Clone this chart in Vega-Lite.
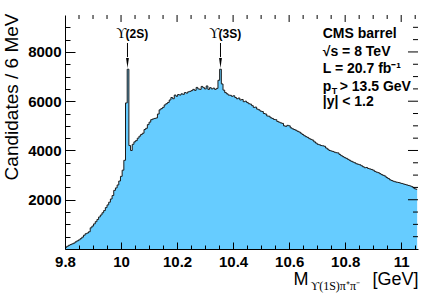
{
  "$schema": "https://vega.github.io/schema/vega-lite/v6.json",
  "width": 353,
  "height": 234,
  "autosize": "none",
  "padding": {"left": 65, "top": 15, "right": 14, "bottom": 45},
  "background": "white",
  "config": {"view": {"stroke": null}, "font": "Liberation Sans", "axis": {"grid": false}},
  "datasets": {
    "hist": [
      {"m":9.803,"n":60},{"m":9.809,"n":110},{"m":9.815,"n":150},{"m":9.821,"n":180},{"m":9.827,"n":210},
      {"m":9.833,"n":240},{"m":9.839,"n":290},{"m":9.845,"n":330},{"m":9.851,"n":370},{"m":9.857,"n":420},
      {"m":9.863,"n":480},{"m":9.869,"n":560},{"m":9.875,"n":620},{"m":9.881,"n":650},{"m":9.887,"n":700},
      {"m":9.893,"n":860},{"m":9.899,"n":930},{"m":9.905,"n":1020},{"m":9.911,"n":1110},{"m":9.917,"n":1200},
      {"m":9.923,"n":1300},{"m":9.929,"n":1380},{"m":9.935,"n":1470},{"m":9.941,"n":1560},{"m":9.947,"n":1680},
      {"m":9.953,"n":1790},{"m":9.959,"n":1900},{"m":9.965,"n":2030},{"m":9.971,"n":2170},{"m":9.977,"n":2380},
      {"m":9.983,"n":2480},{"m":9.989,"n":2600},{"m":9.995,"n":2760},{"m":10.001,"n":2950},{"m":10.007,"n":3200},
      {"m":10.013,"n":3600},{"m":10.019,"n":5930},{"m":10.025,"n":7300},{"m":10.031,"n":4200},{"m":10.037,"n":4000},
      {"m":10.043,"n":4250},{"m":10.049,"n":4350},{"m":10.055,"n":4400},{"m":10.061,"n":4500},{"m":10.067,"n":4580},
      {"m":10.073,"n":4650},{"m":10.079,"n":4700},{"m":10.085,"n":4850},{"m":10.091,"n":4900},{"m":10.097,"n":5050},
      {"m":10.103,"n":5150},{"m":10.109,"n":5250},{"m":10.115,"n":5280},{"m":10.121,"n":5300},{"m":10.127,"n":5320},
      {"m":10.133,"n":5480},{"m":10.139,"n":5650},{"m":10.145,"n":5700},{"m":10.151,"n":5750},{"m":10.157,"n":5850},
      {"m":10.163,"n":5900},{"m":10.169,"n":5950},{"m":10.175,"n":6050},{"m":10.181,"n":6150},{"m":10.187,"n":6100},
      {"m":10.193,"n":6250},{"m":10.199,"n":6200},{"m":10.205,"n":6270},{"m":10.211,"n":6250},{"m":10.217,"n":6300},
      {"m":10.223,"n":6280},{"m":10.229,"n":6350},{"m":10.235,"n":6330},{"m":10.241,"n":6380},{"m":10.247,"n":6400},
      {"m":10.253,"n":6430},{"m":10.259,"n":6480},{"m":10.265,"n":6440},{"m":10.271,"n":6560},{"m":10.277,"n":6500},
      {"m":10.283,"n":6480},{"m":10.289,"n":6600},{"m":10.295,"n":6550},{"m":10.301,"n":6500},{"m":10.307,"n":6620},
      {"m":10.313,"n":6480},{"m":10.319,"n":6550},{"m":10.325,"n":6500},{"m":10.331,"n":6530},{"m":10.337,"n":6480},
      {"m":10.343,"n":6520},{"m":10.349,"n":6850},{"m":10.355,"n":7300},{"m":10.361,"n":6700},{"m":10.367,"n":6450},
      {"m":10.373,"n":6350},{"m":10.379,"n":6300},{"m":10.385,"n":6250},{"m":10.391,"n":6240},{"m":10.397,"n":6200},
      {"m":10.403,"n":6220},{"m":10.409,"n":6150},{"m":10.415,"n":6100},{"m":10.421,"n":6130},{"m":10.427,"n":6050},
      {"m":10.433,"n":6070},{"m":10.439,"n":5980},{"m":10.445,"n":6000},{"m":10.451,"n":5950},{"m":10.457,"n":5900},
      {"m":10.463,"n":5880},{"m":10.469,"n":5820},{"m":10.475,"n":5750},{"m":10.481,"n":5760},{"m":10.487,"n":5680},
      {"m":10.493,"n":5650},{"m":10.499,"n":5600},{"m":10.505,"n":5580},{"m":10.511,"n":5500},{"m":10.517,"n":5480},
      {"m":10.523,"n":5400},{"m":10.529,"n":5390},{"m":10.535,"n":5330},{"m":10.541,"n":5300},{"m":10.547,"n":5260},
      {"m":10.553,"n":5250},{"m":10.559,"n":5180},{"m":10.565,"n":5150},{"m":10.571,"n":5120},{"m":10.577,"n":5100},
      {"m":10.583,"n":5000},{"m":10.589,"n":4980},{"m":10.595,"n":5020},{"m":10.601,"n":5000},{"m":10.607,"n":4920},
      {"m":10.613,"n":4880},{"m":10.619,"n":4850},{"m":10.625,"n":4820},{"m":10.631,"n":4780},{"m":10.637,"n":4750},
      {"m":10.643,"n":4700},{"m":10.649,"n":4650},{"m":10.655,"n":4600},{"m":10.661,"n":4560},{"m":10.667,"n":4530},
      {"m":10.673,"n":4480},{"m":10.679,"n":4450},{"m":10.685,"n":4420},{"m":10.691,"n":4350},{"m":10.697,"n":4300},
      {"m":10.703,"n":4250},{"m":10.709,"n":4230},{"m":10.715,"n":4200},{"m":10.721,"n":4190},{"m":10.727,"n":4170},
      {"m":10.733,"n":4100},{"m":10.739,"n":4050},{"m":10.745,"n":4000},{"m":10.751,"n":3980},{"m":10.757,"n":3960},
      {"m":10.763,"n":3930},{"m":10.769,"n":3910},{"m":10.775,"n":3900},{"m":10.781,"n":3840},{"m":10.787,"n":3790},
      {"m":10.793,"n":3750},{"m":10.799,"n":3710},{"m":10.805,"n":3680},{"m":10.811,"n":3640},{"m":10.817,"n":3600},
      {"m":10.823,"n":3560},{"m":10.829,"n":3530},{"m":10.835,"n":3500},{"m":10.841,"n":3460},{"m":10.847,"n":3440},
      {"m":10.853,"n":3420},{"m":10.859,"n":3380},{"m":10.865,"n":3340},{"m":10.871,"n":3300},{"m":10.877,"n":3310},
      {"m":10.883,"n":3270},{"m":10.889,"n":3250},{"m":10.895,"n":3230},{"m":10.901,"n":3200},{"m":10.907,"n":3150},
      {"m":10.913,"n":3120},{"m":10.919,"n":3100},{"m":10.925,"n":3060},{"m":10.931,"n":3020},{"m":10.937,"n":2990},
      {"m":10.943,"n":2960},{"m":10.949,"n":2900},{"m":10.955,"n":2860},{"m":10.961,"n":2810},{"m":10.967,"n":2780},
      {"m":10.973,"n":2750},{"m":10.979,"n":2730},{"m":10.985,"n":2710},{"m":10.991,"n":2700},{"m":10.997,"n":2680},
      {"m":11.003,"n":2660},{"m":11.009,"n":2640},{"m":11.015,"n":2620},{"m":11.021,"n":2600},{"m":11.027,"n":2580},
      {"m":11.033,"n":2560},{"m":11.039,"n":2530},{"m":11.045,"n":2480},{"m":11.051,"n":2440},{"m":11.057,"n":2420}
    ],
    "xmaj": [{"m":10},{"m":10.2},{"m":10.4},{"m":10.6},{"m":10.8},{"m":11}],
    "xmin": [{"m":9.85},{"m":9.9},{"m":9.95},{"m":10.05},{"m":10.1},{"m":10.15},{"m":10.25},{"m":10.3},{"m":10.35},{"m":10.45},{"m":10.5},{"m":10.55},{"m":10.65},{"m":10.7},{"m":10.75},{"m":10.85},{"m":10.9},{"m":10.95},{"m":11.05}],
    "ymaj": [{"n":2000},{"n":4000},{"n":6000},{"n":8000}],
    "ymin": [{"n":500},{"n":1000},{"n":1500},{"n":2500},{"n":3000},{"n":3500},{"n":4500},{"n":5000},{"n":5500},{"n":6500},{"n":7000},{"n":7500},{"n":8500},{"n":9000}],
    "info": [
      {"m":10.72,"v":8729,"t":"CMS barrel"},
      {"m":10.72,"v":7998,"t":"√s = 8 TeV"},
      {"m":10.72,"v":7288,"t":"L = 20.7 fb⁻¹"},
      {"m":10.72,"v":6597,"t":"p"},
      {"m":10.72,"v":5968,"t":"|y| < 1.2"}
    ],
    "pt_sub": [{"m":10.72,"v":6597,"t":"T"}],
    "pt_rest": [{"m":10.72,"v":6597,"t":"> 13.5 GeV"}],
    "peaks": [
      {"m":10.023,"top":8363,"bot":7790,"head":7556,"v":8729,"s":"(2S)","u":"ϒ"},
      {"m":10.355,"top":8363,"bot":7790,"head":7556,"v":8729,"s":"(3S)","u":"ϒ"}
    ]
  },
  "resolve": {"axis": {"x": "independent", "y": "independent"}},
  "layer": [
    {
      "data": {"name": "hist"},
      "mark": {"type": "area", "interpolate": "step", "color": "#66ccff"},
      "encoding": {
        "x": {"field": "m", "type": "quantitative", "scale": {"domain": [9.8, 11.06], "nice": false, "zero": false},
          "axis": {"orient": "bottom", "zindex": 1,
            "values": [9.8,9.85,9.9,9.95,10,10.05,10.1,10.15,10.2,10.25,10.3,10.35,10.4,10.45,10.5,10.55,10.6,10.65,10.7,10.75,10.8,10.85,10.9,10.95,11,11.05],
            "domain": true, "domainColor": "black", "domainWidth": 1,
            "ticks": true, "tickColor": "black", "tickWidth": 1,
            "tickSize": {"condition": {"test": "abs(datum.value*5 - round(datum.value*5)) < 0.001", "value": -7}, "value": -4},
            "labelExpr": "abs(datum.value*5 - round(datum.value*5)) < 0.001 ? format(datum.value, '~g') : ''",
            "labelFont": "Liberation Sans", "labelFontWeight": "bold", "labelFontSize": 15, "labelColor": "black",
            "labelPadding": 12, "labelFlush": false, "labelOverlap": false,
            "title": "M", "titleFont": "Liberation Sans", "titleFontWeight": "normal", "titleFontSize": 18, "titleColor": "black",
            "titleAlign": "left", "titleBaseline": "alphabetic", "titleX": 228, "titleY": 35}},
        "y": {"field": "n", "type": "quantitative", "scale": {"domain": [0, 9500], "nice": false},
          "axis": {"orient": "left", "zindex": 1,
            "values": [500,1000,1500,2000,2500,3000,3500,4000,4500,5000,5500,6000,6500,7000,7500,8000,8500,9000],
            "domain": true, "domainColor": "black", "domainWidth": 1,
            "ticks": true, "tickColor": "black", "tickWidth": 1,
            "tickSize": {"condition": {"test": "datum.value % 2000 === 0", "value": -10}, "value": -5},
            "labelExpr": "datum.value % 2000 === 0 ? format(datum.value, 'd') : ''",
            "labelFont": "Liberation Sans", "labelFontWeight": "bold", "labelFontSize": 15, "labelColor": "black",
            "labelPadding": 14, "labelOverlap": false,
            "title": "Candidates / 6 MeV", "titleFont": "Liberation Sans", "titleFontWeight": "normal", "titleFontSize": 19, "titleColor": "black",
            "titleAngle": -90, "titleAlign": "right", "titleBaseline": "middle", "titleX": -53.5, "titleY": -2}}
      }
    },
    {
      "data": {"name": "hist"},
      "mark": {"type": "line", "interpolate": "step", "color": "#1a1a1a", "strokeWidth": 1},
      "encoding": {
        "x": {"field": "m", "type": "quantitative", "scale": {"domain": [9.8, 11.06], "nice": false, "zero": false}, "axis": null},
        "y": {"field": "n", "type": "quantitative", "scale": {"domain": [0, 9500], "nice": false}, "axis": null}
      }
    },
    {
      "mark": {"type": "rule", "color": "black", "strokeWidth": 1},
      "encoding": {
        "x": {"datum": 9.8, "type": "quantitative", "scale": {"domain": [9.8, 11.06], "nice": false, "zero": false}, "axis": null},
        "x2": {"datum": 11.0582},
        "y": {"datum": 9480, "type": "quantitative", "scale": {"domain": [0, 9500], "nice": false}, "axis": null}
      }
    },
    {
      "mark": {"type": "rule", "color": "black", "strokeWidth": 1},
      "encoding": {
        "x": {"datum": 11.0582, "type": "quantitative", "scale": {"domain": [9.8, 11.06], "nice": false, "zero": false}, "axis": null},
        "y": {"datum": 0, "type": "quantitative", "scale": {"domain": [0, 9500], "nice": false}, "axis": null},
        "y2": {"datum": 9500}
      }
    },
    {
      "data": {"name": "xmaj"},
      "mark": {"type": "rule", "color": "black", "strokeWidth": 1},
      "encoding": {
        "x": {"field": "m", "type": "quantitative", "scale": {"domain": [9.8, 11.06], "nice": false, "zero": false}, "axis": null},
        "y": {"datum": 9500, "type": "quantitative", "scale": {"domain": [0, 9500], "nice": false}, "axis": null},
        "y2": {"datum": 9216}
      }
    },
    {
      "data": {"name": "xmin"},
      "mark": {"type": "rule", "color": "black", "strokeWidth": 1},
      "encoding": {
        "x": {"field": "m", "type": "quantitative", "scale": {"domain": [9.8, 11.06], "nice": false, "zero": false}, "axis": null},
        "y": {"datum": 9500, "type": "quantitative", "scale": {"domain": [0, 9500], "nice": false}, "axis": null},
        "y2": {"datum": 9338}
      }
    },
    {
      "data": {"name": "ymaj"},
      "mark": {"type": "rule", "color": "black", "strokeWidth": 1},
      "encoding": {
        "x": {"datum": 11.06, "type": "quantitative", "scale": {"domain": [9.8, 11.06], "nice": false, "zero": false}, "axis": null},
        "x2": {"datum": 11.0243},
        "y": {"field": "n", "type": "quantitative", "scale": {"domain": [0, 9500], "nice": false}, "axis": null}
      }
    },
    {
      "data": {"name": "ymin"},
      "mark": {"type": "rule", "color": "black", "strokeWidth": 1},
      "encoding": {
        "x": {"datum": 11.06, "type": "quantitative", "scale": {"domain": [9.8, 11.06], "nice": false, "zero": false}, "axis": null},
        "x2": {"datum": 11.0422},
        "y": {"field": "n", "type": "quantitative", "scale": {"domain": [0, 9500], "nice": false}, "axis": null}
      }
    },
    {
      "data": {"name": "peaks"},
      "mark": {"type": "rule", "color": "black", "strokeWidth": 1},
      "encoding": {
        "x": {"field": "m", "type": "quantitative", "scale": {"domain": [9.8, 11.06], "nice": false, "zero": false},
          "axis": {"orient": "bottom", "domain": false, "ticks": false, "labels": false,
            "title": "[GeV]", "titleFont": "Liberation Sans", "titleFontWeight": "normal", "titleFontSize": 18, "titleColor": "black",
            "titleAlign": "right", "titleBaseline": "alphabetic", "titleX": 353, "titleY": 35}},
        "y": {"field": "top", "type": "quantitative", "scale": {"domain": [0, 9500], "nice": false}, "axis": null},
        "y2": {"field": "bot"}
      }
    },
    {
      "data": {"name": "peaks"},
      "mark": {"type": "point", "shape": "M-0.28,-1L0.28,-1L0,1Z", "filled": true, "color": "black", "opacity": 1, "size": 100},
      "encoding": {
        "x": {"field": "m", "type": "quantitative", "scale": {"domain": [9.8, 11.06], "nice": false, "zero": false}, "axis": null},
        "y": {"field": "head", "type": "quantitative", "scale": {"domain": [0, 9500], "nice": false}, "axis": null}
      }
    },
    {
      "data": {"name": "peaks"},
      "mark": {"type": "text", "font": "Liberation Serif", "fontSize": 14, "align": "right", "baseline": "middle", "dx": -1, "color": "black"},
      "encoding": {
        "x": {"field": "m", "type": "quantitative", "scale": {"domain": [9.8, 11.06], "nice": false, "zero": false},
          "axis": {"orient": "bottom", "domain": false, "ticks": false, "labels": false,
            "title": "ϒ(1S)π⁺π⁻", "titleFont": "Liberation Serif", "titleFontWeight": "normal", "titleFontSize": 12, "titleColor": "black",
            "titleAlign": "left", "titleBaseline": "alphabetic", "titleX": 245, "titleY": 40}},
        "y": {"field": "v", "type": "quantitative", "scale": {"domain": [0, 9500], "nice": false}, "axis": null},
        "text": {"field": "u"}
      }
    },
    {
      "data": {"name": "peaks"},
      "mark": {"type": "text", "font": "Liberation Sans", "fontWeight": "bold", "fontSize": 12, "align": "left", "baseline": "middle", "dx": -2, "color": "black"},
      "encoding": {
        "x": {"field": "m", "type": "quantitative", "scale": {"domain": [9.8, 11.06], "nice": false, "zero": false}, "axis": null},
        "y": {"field": "v", "type": "quantitative", "scale": {"domain": [0, 9500], "nice": false}, "axis": null},
        "text": {"field": "s"}
      }
    },
    {
      "data": {"name": "info"},
      "mark": {"type": "text", "font": "Liberation Sans", "fontWeight": "bold", "fontSize": 14, "align": "left", "baseline": "middle", "color": "black"},
      "encoding": {
        "x": {"field": "m", "type": "quantitative", "scale": {"domain": [9.8, 11.06], "nice": false, "zero": false}, "axis": null},
        "y": {"field": "v", "type": "quantitative", "scale": {"domain": [0, 9500], "nice": false}, "axis": null},
        "text": {"field": "t"}
      }
    },
    {
      "data": {"name": "pt_sub"},
      "mark": {"type": "text", "font": "Liberation Sans", "fontWeight": "bold", "fontSize": 9, "align": "left", "baseline": "middle", "dx": 9, "dy": 4, "color": "black"},
      "encoding": {
        "x": {"field": "m", "type": "quantitative", "scale": {"domain": [9.8, 11.06], "nice": false, "zero": false}, "axis": null},
        "y": {"field": "v", "type": "quantitative", "scale": {"domain": [0, 9500], "nice": false}, "axis": null},
        "text": {"field": "t"}
      }
    },
    {
      "data": {"name": "pt_rest"},
      "mark": {"type": "text", "font": "Liberation Sans", "fontWeight": "bold", "fontSize": 14, "align": "left", "baseline": "middle", "dx": 17, "color": "black"},
      "encoding": {
        "x": {"field": "m", "type": "quantitative", "scale": {"domain": [9.8, 11.06], "nice": false, "zero": false}, "axis": null},
        "y": {"field": "v", "type": "quantitative", "scale": {"domain": [0, 9500], "nice": false}, "axis": null},
        "text": {"field": "t"}
      }
    }
  ]
}
